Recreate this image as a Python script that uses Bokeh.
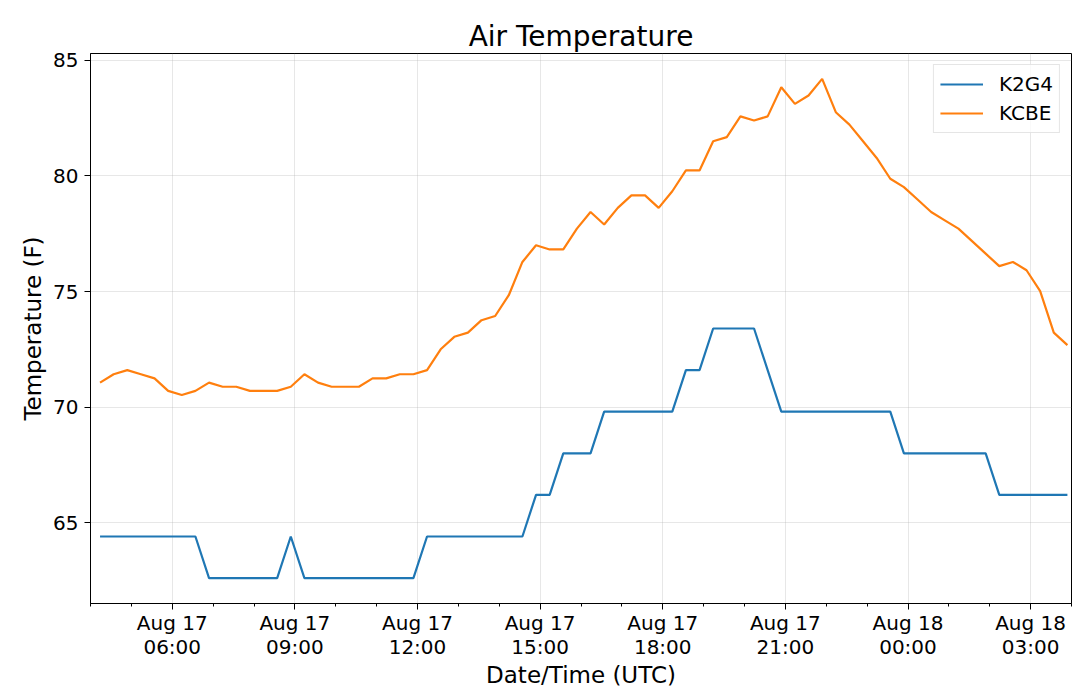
from datetime import datetime, timedelta
from bokeh.plotting import figure
from bokeh.models import (Range1d, FixedTicker, DatetimeTickFormatter, Legend,
                          LegendItem, ColumnDataSource)
from bokeh.embed import file_html
from bokeh.resources import INLINE

# ---- data -------------------------------------------------------------
start_time = datetime(2019, 8, 17, 4, 14)
step_minutes = 20
n_obs = 72
times = [start_time + timedelta(minutes=step_minutes * i) for i in range(n_obs)]

k2g4 = [64.4] * 8 + [62.6] * 6 + [64.4] + [62.6] * 9 + [64.4] * 8 + [66.2] * 2 + \
       [68.0] * 3 + [69.8] * 6 + [71.6] * 2 + [73.4] * 4 + [71.6] + [69.8] * 9 + \
       [68.0] * 7 + [66.2] * 6

kcbe = [71.06, 71.42, 71.6, 71.42, 71.24, 70.7, 70.52, 70.7, 71.06, 70.88,
        70.88, 70.7, 70.7, 70.7, 70.88, 71.42, 71.06, 70.88, 70.88, 70.88,
        71.24, 71.24, 71.42, 71.42, 71.6, 72.5, 73.04, 73.22, 73.76, 73.94,
        74.84, 76.28, 77.0, 76.82, 76.82, 77.72, 78.44, 77.9, 78.62, 79.16,
        79.16, 78.62, 79.34, 80.24, 80.24, 81.5, 81.68, 82.58, 82.4, 82.58,
        83.84, 83.12, 83.48, 84.2, 82.76, 82.22, 81.5, 80.78, 79.88, 79.52,
        78.98, 78.44, 78.08, 77.72, 77.18, 76.64, 76.1, 76.28, 75.92, 75.02,
        73.22, 72.68]

station_names = ["K2G4", "KCBE"]
series_colors = ["#1f77b4", "#ff7f0e"]

day0 = datetime(2019, 8, 17, 0, 0)
x_start = datetime(2019, 8, 17, 4, 0)
x_end = datetime(2019, 8, 18, 4, 0)
y_ticks = [65, 70, 75, 80, 85]
major_hours = [6, 9, 12, 15, 18, 21, 24, 27]   # hours after Aug 17 00:00
minor_hours = list(range(4, 29))

# ---- helpers ------------------------------------------------------------
FONT = "DejaVu Sans"
EPOCH = datetime(1970, 1, 1)

def ms(dt):
    return (dt - EPOCH).total_seconds() * 1000.0

t_ms = [ms(t) for t in times]

p = figure(width=1080, height=694, x_axis_type="datetime",
           x_range=Range1d(ms(x_start), ms(x_end)), y_range=Range1d(61.5, 85.3),
           output_backend="svg", toolbar_location=None,
           min_border_left=90, min_border_right=9, min_border_top=53,
           min_border_bottom=91)

src = ColumnDataSource(dict(t=t_ms, a=k2g4, b=kcbe))
r1 = p.line("t", "a", source=src, line_color=series_colors[0], line_width=2.2)
r2 = p.line("t", "b", source=src, line_color=series_colors[1], line_width=2.2)

p.title.text = "Air Temperature"
p.title.text_font = FONT
p.title.text_font_size = "28px"
p.title.text_font_style = "normal"
p.title.text_color = "black"
p.title.align = "center"
p.title.standoff = 2

xticks = [ms(day0 + timedelta(hours=h)) for h in major_hours]
xminor = [ms(day0 + timedelta(hours=h)) for h in minor_hours]
p.xaxis.ticker = FixedTicker(ticks=xticks, minor_ticks=xminor)
fmt = "%b %d\n%H:%M"
p.xaxis.formatter = DatetimeTickFormatter(
    microseconds=fmt, milliseconds=fmt, seconds=fmt, minsec=fmt, minutes=fmt,
    hourmin=fmt, hours=fmt, days=fmt, months=fmt, years=fmt)
p.yaxis.ticker = FixedTicker(ticks=y_ticks)

p.xaxis.axis_label = "Date/Time (UTC)"
p.yaxis.axis_label = "Temperature (F)"

for ax in (p.xaxis, p.yaxis):
    ax.axis_label_text_font = FONT
    ax.axis_label_text_font_size = "23px"
    ax.axis_label_text_font_style = "normal"
    ax.axis_label_text_color = "black"
    ax.major_label_text_font = FONT
    ax.major_label_text_font_size = "20px"
    ax.major_label_text_color = "black"
    ax.axis_line_color = "black"
    ax.major_tick_line_color = "black"
    ax.minor_tick_line_color = "black"
    ax.major_tick_out = 6
    ax.major_tick_in = 0

p.xaxis.minor_tick_out = 3
p.xaxis.minor_tick_in = 0
p.xaxis.major_label_standoff = 1
p.xaxis.major_label_text_line_height = 1.0
p.xaxis.axis_label_standoff = 0
p.yaxis.minor_tick_out = 0
p.yaxis.minor_tick_in = 0
p.yaxis.major_label_standoff = 6
p.yaxis.axis_label_standoff = 4

p.grid.grid_line_color = "#b0b0b0"
p.grid.grid_line_alpha = 0.3
p.grid.grid_line_width = 1
p.outline_line_color = "black"
p.outline_line_width = 1
p.outline_line_alpha = 1

legend = Legend(items=[LegendItem(label=station_names[0], renderers=[r1]),
                       LegendItem(label=station_names[1], renderers=[r2])],
                location="top_right")
legend.label_text_font = FONT
legend.label_text_font_size = "20px"
legend.label_text_color = "black"
legend.glyph_width = 43
legend.glyph_height = 26
legend.label_height = 26
legend.label_standoff = 16
legend.padding = 6
legend.spacing = 3
legend.margin = 11
legend.border_line_color = "#cccccc"
legend.border_line_width = 1
legend.background_fill_alpha = 0.8
p.add_layout(legend)

open("out.html", "w").write(file_html(p, INLINE))
